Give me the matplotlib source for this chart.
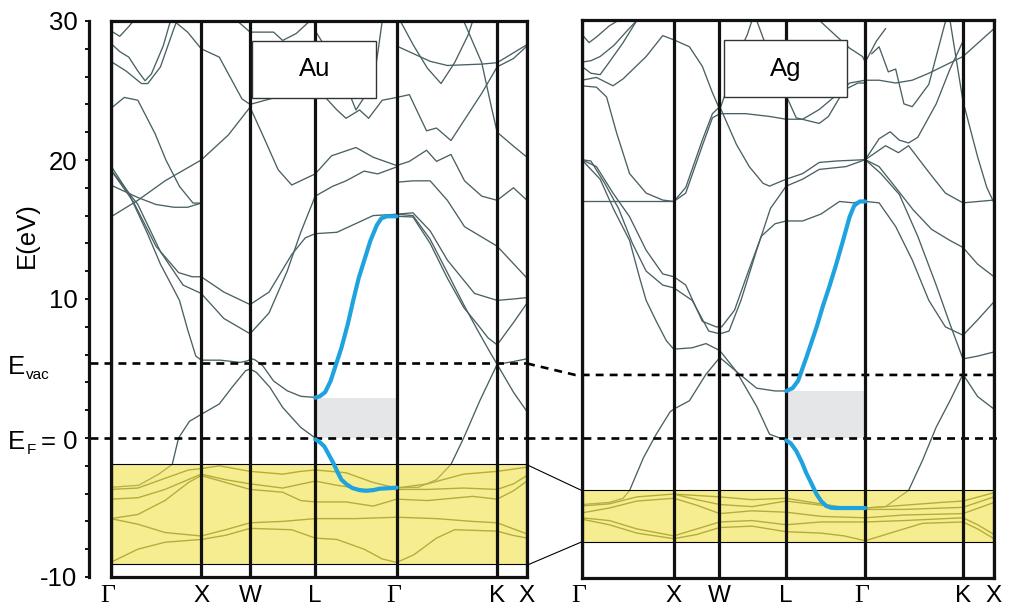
import matplotlib
matplotlib.use("Agg")
import matplotlib.pyplot as plt
from matplotlib.patches import Rectangle
from matplotlib.transforms import blended_transform_factory

# ---------------- data ----------------
kpt_labels = ["Γ", "X", "W", "L", "Γ", "K", "X"]
au_kpts = [0.0, 1.0, 1.54, 2.26, 3.16, 4.27, 4.60]
ag_kpts = [0.0, 1.0, 1.496, 2.221, 3.08, 4.141, 4.478]

e_min, e_max = -10, 30
au_evac = 5.37
ag_evac = 4.55
au_dband = [-9.1, -1.9]     # yellow d-band window
ag_dband = [-7.43, -3.74]
au_gap_top = 2.9
ag_gap_top = 3.4

# Au highlighted (blue) band along L-Gamma
au_blue_up_k = [2.26, 2.31, 2.37, 2.43, 2.49, 2.55, 2.62, 2.68, 2.74, 2.87, 2.94, 2.99, 3.05, 3.16]
au_blue_up_e = [2.9, 3.0, 3.3, 4.1, 5.3, 6.5, 8.2, 9.9, 11.5, 14.2, 15.3, 15.8, 15.95, 15.95]
au_blue_dn_k = [2.26, 2.31, 2.36, 2.41, 2.46, 2.51, 2.55, 2.61, 2.67, 2.75, 2.82, 2.9, 2.97, 3.16]
au_blue_dn_e = [-0.1, -0.3, -0.6, -1.2, -1.8, -2.5, -3.0, -3.35, -3.6, -3.75, -3.8, -3.75, -3.65, -3.57]

# Ag highlighted (blue) band along L-Gamma
ag_blue_up_k = [2.221, 2.29, 2.35, 2.44, 2.55, 2.62, 2.69, 2.76, 2.83, 2.91, 2.96, 3.02, 3.08]
ag_blue_up_e = [3.4, 3.6, 4.13, 5.8, 7.96, 9.5, 10.9, 12.4, 14.0, 15.9, 16.7, 17.0, 17.0]
ag_blue_dn_k = [2.221, 2.27, 2.33, 2.39, 2.44, 2.5, 2.55, 2.6, 2.656, 2.71, 2.764, 3.08]
ag_blue_dn_e = [-0.15, -0.35, -0.9, -1.7, -2.5, -3.3, -4.0, -4.5, -4.85, -4.98, -5.0, -5.0]

# ---- Au bands ----
au_b1_k = [0, 0.31, 0.53, 0.68, 0.75, 0.87, 1.0, 1.2, 1.34, 1.49, 1.54, 1.61, 1.76, 1.9, 2.1, 2.26,
           2.36, 2.46, 2.55, 2.67, 2.82, 2.97, 3.16]
au_b1_e = [-3.55, -3.4, -2.6, -1.9, 0.0, 1.2, 1.7, 2.45, 3.64, 4.84, 4.96, 4.72, 3.64, 2.2, 0.76, 0.0,
           -0.6, -1.8, -3.0, -3.6, -3.8, -3.65, -3.57]
au_b1b_k = [3.16, 3.4, 3.6, 3.76, 3.9, 4.08, 4.27, 4.45, 4.6]
au_b1b_e = [-3.57, -3.55, -3.0, -1.9, 0.0, 2.7, 5.3, 3.3, 1.9]
au_b2_k = [0, 0.2, 0.4, 0.55, 0.68, 0.76, 0.85, 0.94, 1.0, 1.21, 1.43, 1.51, 1.56, 1.6, 1.68, 1.8,
           1.95, 2.1, 2.26]
au_b2_e = [19.6, 17.6, 14.8, 12.5, 10.9, 9.9, 7.8, 5.9, 5.6, 5.6, 5.44, 5.55, 5.7, 5.6, 5.2, 4.1,
           3.4, 3.0, 2.92]
au_b2b_k = [3.16, 3.34, 3.53, 3.72, 3.9, 4.05, 4.17, 4.27, 4.45, 4.6]
au_b2b_e = [15.95, 15.9, 14.0, 11.5, 9.4, 8.2, 7.2, 6.7, 8.3, 9.7]
au_b3_k = [0, 0.25, 0.5, 0.75, 0.9, 1.0, 1.25, 1.54, 1.75, 2.0, 2.15, 2.26, 2.5, 2.7, 2.9, 3.16,
           3.34, 3.53, 3.72, 4.02, 4.27, 4.45, 4.6]
au_b3_e = [19.3, 17.0, 13.8, 11.9, 11.6, 11.6, 10.5, 9.6, 10.5, 13.2, 14.4, 14.7, 14.8, 15.4, 16.0, 16.1,
           16.2, 14.9, 12.8, 10.4, 9.9, 10.0, 10.1]
au_b4_k = [0, 0.3, 0.5, 0.7, 0.85, 1.0]
au_b4_e = [18.2, 17.3, 16.8, 16.6, 16.6, 16.9]
au_b5_k = [0, 0.3, 0.6, 1.0, 1.3, 1.54, 1.7, 1.85, 2.0, 2.26, 2.44, 2.71, 2.9, 3.16, 3.3, 3.49, 3.6,
           3.76, 3.91, 4.1, 4.27, 4.45, 4.6]
au_b5_e = [15.9, 17.1, 18.5, 20.0, 21.8, 23.8, 21.5, 19.3, 18.2, 19.0, 20.3, 20.9, 20.2, 19.6, 19.9, 20.7, 19.9,
           20.4, 18.5, 17.4, 17.1, 18.0, 17.1]
au_b6_k = [3.16, 3.34, 3.53, 3.72, 3.9, 4.05, 4.18, 4.27, 4.45, 4.6]
au_b6_e = [16.1, 16.0, 14.3, 11.9, 9.6, 7.8, 6.3, 5.3, 5.5, 5.7]
au_b7_k = [3.16, 3.34, 3.53, 3.72, 3.91, 4.27, 4.6]
au_b7_e = [18.4, 18.5, 18.5, 17.1, 15.2, 13.8, 11.5]
au_b8_k = [0, 0.3, 0.55, 0.8, 1.0, 1.25, 1.54, 1.75, 1.95, 2.1, 2.26, 2.45, 2.6, 2.8, 2.95, 3.16]
au_b8_e = [19.3, 16.8, 13.4, 11.0, 10.4, 8.6, 7.5, 9.0, 12.0, 14.8, 17.4, 18.1, 18.5, 19.2, 19.0, 19.5]
au_b9_k = [0, 0.15, 0.3, 0.49, 0.61, 0.76, 0.91, 1.0]
au_b9_e = [23.7, 24.5, 24.3, 21.9, 20.0, 18.1, 16.9, 16.9]
au_b10_k = [0, 0.17, 0.34, 0.41, 0.55, 0.69, 0.73]
au_b10_e = [27.1, 26.4, 25.5, 25.5, 26.7, 29.3, 30.0]
au_b11_k = [0, 0.1, 0.2, 0.3, 0.38, 0.45, 0.58, 0.66]
au_b11_e = [28.4, 27.8, 27.4, 26.4, 25.7, 26.2, 28.2, 30.0]
au_b12_k = [0, 0.1, 0.2, 0.25]
au_b12_e = [29.3, 28.9, 29.6, 30.0]
au_b13_k = [0.7, 0.85, 1.0, 1.2, 1.45, 1.54, 1.82, 2.0, 2.26, 2.5, 2.6, 2.75, 2.85, 3.0, 3.16, 3.3, 3.49,
            3.6, 3.76, 4.1, 4.27, 4.45, 4.6]
au_b13_e = [30.0, 29.2, 28.0, 27.4, 24.4, 24.0, 24.5, 24.8, 25.3, 23.6, 23.0, 23.6, 23.0, 24.3, 24.5, 24.7, 22.1,
            22.3, 21.4, 24.8, 26.7, 27.3, 28.2]
au_b14_k = [1.4, 1.54, 1.8, 1.9, 2.05, 2.2]
au_b14_e = [30.0, 29.2, 29.2, 28.6, 29.1, 30.0]
au_b15_k = [2.26, 2.44, 2.58, 2.71, 2.9, 2.96, 3.0]
au_b15_e = [29.3, 27.4, 25.7, 23.6, 25.5, 28.1, 30.0]
au_b16_k = [3.16, 3.53, 3.72, 4.1, 4.27, 4.6]
au_b16_e = [28.2, 27.1, 26.8, 26.9, 27.0, 28.3]
au_b17_k = [3.2, 3.35, 3.5, 3.65, 3.8, 3.95, 4.0]
au_b17_e = [30.0, 28.2, 26.6, 25.5, 27.0, 29.0, 30.0]
au_b18_k = [3.9, 4.1, 4.2, 4.27, 4.45, 4.6]
au_b18_e = [30.0, 27.0, 24.0, 22.0, 21.0, 20.2]
# Au d bands (inside the yellow window)
au_y1_k = [0, 0.3, 0.6, 1.0, 1.27, 1.54, 2.0, 2.26, 2.5, 2.8, 3.0, 3.16, 3.35, 3.6, 3.8, 4.27, 4.44, 4.6]
au_y1_e = [-8.95, -8.0, -7.5, -7.3, -7.0, -6.5, -6.6, -7.2, -7.3, -8.0, -8.7, -8.95, -8.4, -7.2, -6.6, -6.7, -7.0, -7.2]
au_y2_k = [0, 0.3, 0.6, 1.0, 1.27, 1.54, 1.9, 2.26, 2.7, 3.16, 3.6, 4.0, 4.27, 4.6]
au_y2_e = [-5.8, -6.2, -6.8, -7.05, -6.6, -6.1, -6.0, -5.8, -5.8, -5.7, -5.8, -6.0, -6.1, -6.9]
au_y3_k = [0, 0.3, 0.6, 0.86, 1.0, 1.27, 1.54, 1.9, 2.1, 2.26, 2.6, 2.9, 3.16, 3.5, 4.0, 4.27, 4.45, 4.6]
au_y3_e = [-5.8, -5.5, -4.5, -3.2, -2.7, -3.2, -3.7, -3.9, -4.5, -4.6, -4.6, -4.9, -4.4, -4.5, -4.2, -4.4, -3.8, -3.1]
au_y4_k = [0, 0.3, 0.6, 1.0, 1.27, 1.54, 1.9, 2.26, 2.5, 2.8, 3.16, 3.5, 3.9, 4.27, 4.45, 4.6]
au_y4_e = [-4.4, -4.3, -3.7, -2.6, -3.0, -3.3, -3.6, -3.1, -3.4, -3.7, -3.7, -3.7, -3.6, -3.7, -3.3, -2.7]
au_y5_k = [0, 0.3, 0.6, 0.86, 1.0, 1.2, 1.54, 1.9, 2.1, 2.26, 2.6, 2.9, 3.16, 3.5, 3.9, 4.27, 4.6]
au_y5_e = [-3.7, -3.6, -2.9, -2.3, -2.2, -2.0, -2.4, -2.6, -2.4, -2.3, -2.5, -3.2, -3.6, -3.3, -2.6, -2.4, -2.1]

# ---- Ag bands ----
ag_b1_k = [0, 0.3, 0.45, 0.52, 0.67, 0.81, 0.96, 1.0, 1.17, 1.35, 1.5, 1.68, 1.9, 2.04, 2.221,
           2.33, 2.44, 2.547, 2.656, 2.764, 3.08]
ag_b1_e = [-4.75, -4.6, -4.3, -3.74, -1.4, 0.3, 1.9, 2.1, 2.7, 4.6, 5.8, 4.8, 2.3, 0.3, -0.15,
           -0.9, -2.5, -4.0, -4.9, -5.0, -5.0]
ag_b1b_k = [3.08, 3.3, 3.55, 3.7, 3.85, 4.0, 4.141, 4.3, 4.478]
ag_b1b_e = [-5.0, -4.9, -3.74, -1.6, 0.8, 2.7, 4.6, 3.0, 2.1]
ag_b2_k = [0, 0.16, 0.34, 0.52, 0.7, 0.88, 1.0, 1.13, 1.31, 1.46, 1.52, 1.66, 1.8, 1.95, 2.1, 2.221,
           2.4, 2.6, 2.8, 2.95, 3.08]
ag_b2_e = [20.0, 19.5, 17.6, 15.9, 13.5, 11.8, 11.6, 11.0, 8.4, 8.0, 8.0, 9.2, 11.8, 14.5, 15.4, 15.6,
           15.6, 16.1, 17.0, 16.9, 17.1]
ag_b3_k = [0, 0.1, 0.25, 0.4, 0.55, 0.7, 0.88, 1.0, 1.2, 1.38, 1.5, 1.6, 1.73, 1.9, 2.05, 2.221,
           2.4, 2.58, 2.87, 3.08]
ag_b3_e = [20.0, 19.9, 18.3, 16.5, 14.0, 12.0, 11.0, 10.8, 9.9, 7.7, 7.5, 7.7, 9.9, 13.5, 16.5, 18.1,
           18.6, 19.3, 19.5, 20.0]
ag_b4_k = [0, 0.2, 0.35, 0.52, 0.63, 0.7, 0.81, 0.92, 1.0, 1.2, 1.35, 1.5, 1.68, 1.9, 2.1, 2.221]
ag_b4_e = [20.0, 18.6, 16.4, 14.2, 11.5, 9.9, 8.4, 7.0, 6.4, 6.5, 6.8, 6.3, 4.8, 3.6, 3.4, 3.4]
ag_b4b_k = [3.08, 3.23, 3.41, 3.59, 3.77, 3.95, 4.141, 4.3, 4.478]
ag_b4b_e = [17.0, 16.9, 15.2, 12.8, 9.9, 8.0, 7.4, 8.5, 9.8]
ag_b5_k = [3.08, 3.23, 3.41, 3.6, 3.8, 4.0, 4.141, 4.3, 4.478]
ag_b5_e = [20.0, 19.5, 18.0, 16.4, 15.0, 14.2, 13.7, 12.5, 11.6]
ag_b6_k = [3.08, 3.25, 3.45, 3.65, 3.85, 4.0, 4.141, 4.3, 4.478]
ag_b6_e = [20.0, 19.0, 17.5, 14.5, 11.0, 8.2, 5.7, 5.9, 6.2]
ag_b7_k = [3.08, 3.3, 3.44, 3.55, 3.77, 3.95, 4.141, 4.478]
ag_b7_e = [20.0, 21.0, 20.5, 21.0, 19.1, 17.6, 16.9, 17.1]
ag_b8_k = [0, 0.5, 1.0]
ag_b8_e = [17.0, 17.0, 17.0]
ag_b9_k = [0, 0.16, 0.27, 0.38, 0.52, 0.7, 0.88, 1.0, 1.13, 1.31, 1.42, 1.5, 1.68, 1.82, 1.97, 2.04,
           2.221, 2.4, 2.58, 2.76, 3.08]
ag_b9_e = [25.3, 25.2, 24.5, 21.9, 19.0, 17.6, 17.1, 17.0, 18.0, 21.4, 23.3, 23.8, 21.1, 19.5, 18.3, 18.1,
           18.6, 19.0, 19.8, 19.9, 20.0]
ag_b10_k = [1.0, 1.13, 1.31, 1.42, 1.5, 1.78, 2.04, 2.221, 2.4, 2.58, 2.76, 2.91, 3.08, 3.23, 3.41,
            3.59, 3.77, 4.141, 4.478]
ag_b10_e = [17.0, 17.6, 21.0, 23.0, 23.3, 23.3, 23.1, 22.9, 22.9, 23.6, 24.6, 25.5, 25.7, 25.7, 25.5,
            25.7, 26.2, 27.4, 29.4]
ag_b11_k = [0, 0.16, 0.34, 0.45, 0.7, 0.88, 1.0, 1.17, 1.31, 1.42, 1.5]
ag_b11_e = [25.7, 25.9, 25.3, 25.8, 27.4, 28.9, 28.6, 28.1, 26.7, 24.8, 23.6]
ag_b12_k = [1.5, 1.6, 1.7, 1.8, 1.85]
ag_b12_e = [23.6, 25.5, 27.5, 29.0, 30.0]
ag_b13_k = [1.9, 2.05, 2.2, 2.33, 2.58, 2.68, 2.85, 3.0, 3.08]
ag_b13_e = [30.0, 27.3, 24.9, 23.0, 22.6, 23.1, 25.0, 25.5, 25.5]
ag_b14_k = [2.58, 2.76, 2.91, 3.05, 3.08, 3.2, 3.3]
ag_b14_e = [30.0, 28.9, 28.0, 27.4, 27.0, 28.5, 29.4]
ag_b15_k = [3.15, 3.23, 3.33, 3.41, 3.5, 3.59, 3.77, 3.95]
ag_b15_e = [27.6, 28.1, 26.3, 26.5, 24.0, 23.8, 25.4, 29.9]
ag_b16_k = [3.08, 3.23, 3.35, 3.45, 3.55, 3.65, 3.85, 4.0, 4.141]
ag_b16_e = [20.0, 21.5, 22.0, 21.4, 21.2, 21.6, 24.0, 26.5, 28.5]
ag_b17_k = [4.0, 4.141, 4.3, 4.4, 4.478]
ag_b17_e = [30.0, 24.2, 20.2, 18.0, 16.9]
ag_b18_k = [0, 0.08, 0.16, 0.3, 0.4]
ag_b18_e = [29.0, 28.4, 28.8, 29.6, 30.0]
ag_b19_k = [0, 0.1, 0.2, 0.35, 0.5, 0.6]
ag_b19_e = [27.0, 27.1, 27.4, 28.2, 29.3, 30.0]
ag_b20_k = [0, 0.1, 0.2, 0.3, 0.45, 0.6]
ag_b20_e = [26.7, 26.2, 26.1, 27.0, 28.4, 30.0]
# Ag d bands
ag_y1_k = [0, 0.3, 0.6, 1.0, 1.25, 1.5, 1.85, 2.221, 2.6, 2.85, 3.08, 3.35, 3.7, 4.141, 4.3, 4.478]
ag_y1_e = [-5.8, -6.2, -6.8, -7.2, -6.9, -6.4, -6.3, -6.7, -6.8, -7.0, -7.35, -6.8, -6.1, -6.0, -6.5, -7.2]
ag_y2_k = [0, 0.3, 0.6, 1.0, 1.25, 1.5, 1.85, 2.221, 2.6, 3.08, 3.5, 4.141, 4.3, 4.478]
ag_y2_e = [-5.7, -5.9, -6.5, -7.0, -6.5, -6.0, -5.9, -6.2, -6.0, -6.0, -5.9, -5.7, -6.2, -6.9]
ag_y3_k = [0, 0.3, 0.6, 1.0, 1.25, 1.5, 1.85, 2.221, 2.6, 3.08, 3.5, 4.141, 4.478]
ag_y3_e = [-5.35, -5.0, -4.5, -4.3, -4.8, -5.4, -5.2, -5.3, -5.6, -5.7, -5.5, -5.4, -4.6]
ag_y4_k = [0, 0.3, 0.6, 1.0, 1.25, 1.5, 1.85, 2.221, 2.6, 3.08, 3.5, 4.141, 4.478]
ag_y4_e = [-4.85, -4.7, -4.2, -4.0, -4.4, -4.75, -4.9, -4.5, -4.8, -5.1, -5.1, -4.95, -4.2]
ag_y5_k = [1.0, 1.25, 1.5, 1.85, 2.221, 2.5, 2.8, 3.08, 3.5, 3.9, 4.141, 4.478]
ag_y5_e = [-4.0, -4.1, -4.2, -4.4, -4.3, -4.6, -4.9, -5.0, -4.8, -4.6, -4.5, -3.9]

au_bands = [(au_b1_k, au_b1_e), (au_b1b_k, au_b1b_e), (au_b2_k, au_b2_e), (au_b2b_k, au_b2b_e),
            (au_b3_k, au_b3_e), (au_b4_k, au_b4_e), (au_b5_k, au_b5_e), (au_b6_k, au_b6_e),
            (au_b7_k, au_b7_e), (au_b8_k, au_b8_e), (au_b9_k, au_b9_e), (au_b10_k, au_b10_e),
            (au_b11_k, au_b11_e), (au_b12_k, au_b12_e), (au_b13_k, au_b13_e), (au_b14_k, au_b14_e),
            (au_b15_k, au_b15_e), (au_b16_k, au_b16_e), (au_b17_k, au_b17_e), (au_b18_k, au_b18_e)]
au_dbands = [(au_y1_k, au_y1_e), (au_y2_k, au_y2_e), (au_y3_k, au_y3_e), (au_y4_k, au_y4_e),
             (au_y5_k, au_y5_e)]
ag_bands = [(ag_b1_k, ag_b1_e), (ag_b1b_k, ag_b1b_e), (ag_b2_k, ag_b2_e), (ag_b3_k, ag_b3_e),
            (ag_b4_k, ag_b4_e), (ag_b4b_k, ag_b4b_e), (ag_b5_k, ag_b5_e), (ag_b6_k, ag_b6_e),
            (ag_b7_k, ag_b7_e), (ag_b8_k, ag_b8_e), (ag_b9_k, ag_b9_e), (ag_b10_k, ag_b10_e),
            (ag_b11_k, ag_b11_e), (ag_b12_k, ag_b12_e), (ag_b13_k, ag_b13_e), (ag_b14_k, ag_b14_e),
            (ag_b15_k, ag_b15_e), (ag_b16_k, ag_b16_e), (ag_b17_k, ag_b17_e), (ag_b18_k, ag_b18_e),
            (ag_b19_k, ag_b19_e), (ag_b20_k, ag_b20_e)]
ag_dbands = [(ag_y1_k, ag_y1_e), (ag_y2_k, ag_y2_e), (ag_y3_k, ag_y3_e), (ag_y4_k, ag_y4_e),
             (ag_y5_k, ag_y5_e)]

# ---------------- style ----------------
SANS = ["Liberation Sans", "DejaVu Sans"]
SERIF = ["Liberation Serif", "DejaVu Serif"]
BAND = "#4a6064"
DBAND = "#55551e"
BLUE = "#1fa3df"
YELLOW = (0.945, 0.89, 0.30)
GAPGREY = "#e5e6e7"
FS = 18.5
plt.rcParams["font.family"] = SANS

W, H = 1010, 608
fig = plt.figure(figsize=(W / 100, H / 100), dpi=100)
ax_au = fig.add_axes([110.7 / W, 31.0 / H, 416.3 / W, 556.0 / H])
ax_ag = fig.add_axes([581.7 / W, 30.3 / H, 412.3 / W, 557.4 / H])
ax_y = fig.add_axes([89.0 / W, 31.0 / H, 0.0005, 556.0 / H])


def draw_panel(ax, kpts, bands, dbands, bup, bdn, dband, gap_top, name, box_x, lab_y):
    kmax = kpts[-1]
    ax.set_xlim(0, kmax)
    ax.set_ylim(e_min, e_max)
    for k, e in bands:
        ax.plot(k, e, color=BAND, lw=0.95, zorder=2, solid_joinstyle="round")
    for k, e in dbands:
        ax.plot(k, e, color=DBAND, lw=1.0, zorder=2, solid_joinstyle="round")
    ax.add_patch(Rectangle((kpts[3], 0), kpts[4] - kpts[3], gap_top,
                           facecolor=GAPGREY, edgecolor="none", zorder=1))
    ax.add_patch(Rectangle((0, dband[0]), kmax, dband[1] - dband[0],
                           facecolor=YELLOW, alpha=0.62, edgecolor="none", zorder=3))
    for y in dband:
        ax.plot([0, kmax], [y, y], color="black", lw=0.8, zorder=4)
    for k in kpts:
        ax.axvline(k, color="#111111", lw=2.3, zorder=6)
    ax.plot(bup[0], bup[1], color=BLUE, lw=3.0, zorder=7, solid_capstyle="round",
            solid_joinstyle="round")
    ax.plot(bdn[0], bdn[1], color=BLUE, lw=3.0, zorder=7, solid_capstyle="round",
            solid_joinstyle="round")
    for s in ax.spines.values():
        s.set_linewidth(2.3)
        s.set_color("#111111")
        s.set_zorder(8)
    ax.set_yticks([])
    ax.set_xticks([])
    trx = blended_transform_factory(ax.transData, ax.transAxes)
    for k, lab in zip(kpts, kpt_labels):
        if lab == "Γ":
            ax.text(k - 0.035, lab_y, lab, transform=trx, ha="center", va="baseline",
                    fontsize=FS, fontfamily=SERIF)
        else:
            ax.text(k, lab_y, lab, transform=trx, ha="center", va="baseline", fontsize=FS - 1)
    ax.add_patch(Rectangle((box_x, 0.862), 0.299, 0.1025, transform=ax.transAxes,
                           facecolor="white", edgecolor="#333333", lw=1.0, zorder=9))
    ax.text(box_x + 0.1495, 0.913, name, transform=ax.transAxes, ha="center", va="center",
            fontsize=FS, zorder=10)


draw_panel(ax_au, au_kpts, au_bands, au_dbands, (au_blue_up_k, au_blue_up_e),
           (au_blue_dn_k, au_blue_dn_e), au_dband, au_gap_top, "Au", 0.3394, -0.0445)
draw_panel(ax_ag, ag_kpts, ag_bands, ag_dbands, (ag_blue_up_k, ag_blue_up_e),
           (ag_blue_dn_k, ag_blue_dn_e), ag_dband, ag_gap_top, "Ag", 0.345, -0.0432)

# dashed reference levels (Fermi level and vacuum level), drawn across the figure
dash = dict(color="black", lw=1.9, linestyle=(0, (3.0, 2.3)), zorder=5, clip_on=False)
ax_au.plot([-0.229, au_kpts[-1]], [0, 0], **dash)
ax_ag.plot([-0.593, 4.53], [0, 0], **dash)
ax_au.plot([-0.229, au_kpts[-1]], [au_evac, au_evac], **dash)
ax_ag.plot([-0.593, -0.07, 4.53], [au_evac, ag_evac, ag_evac], **dash)

# connectors between the two d-band windows
ax_ag.plot([-0.593, 0], [au_dband[1], ag_dband[1]], color="black", lw=0.8, clip_on=False)
ax_ag.plot([-0.593, 0], [au_dband[0], ag_dband[0]], color="black", lw=0.8, clip_on=False)

# energy axis
ax_y.set_ylim(e_min, e_max)
ax_y.patch.set_visible(False)
for side in ["right", "top", "bottom"]:
    ax_y.spines[side].set_visible(False)
ax_y.spines["left"].set_linewidth(2.3)
ax_y.spines["left"].set_color("#111111")
ax_y.set_xticks([])
yt = list(range(-10, 31, 2))
ax_y.set_yticks(yt)
ax_y.set_yticklabels([str(v) if v in (-10, 10, 20, 30) else "" for v in yt])
ax_y.tick_params(axis="y", direction="out", length=3.2, width=1.4, pad=5, labelsize=FS,
                 color="#111111")

tr = blended_transform_factory(fig.transFigure, ax_au.transData)
fig.text(0.008, 4.63, "E", transform=tr, fontsize=FS, va="baseline", ha="left")
fig.text(0.026, 4.27, "vac", transform=tr, fontsize=11, va="baseline", ha="left")
fig.text(0.008, -0.77, "E", transform=tr, fontsize=FS, va="baseline", ha="left")
fig.text(0.026, -1.13, "F", transform=tr, fontsize=11, va="baseline", ha="left")
fig.text(0.041, -0.77, "= 0", transform=tr, fontsize=FS, va="baseline", ha="left")
fig.text(0.027, 14.6, "E(eV)", transform=tr, fontsize=FS, va="center", ha="center", rotation=90)

fig.savefig("out.png", dpi=100)
